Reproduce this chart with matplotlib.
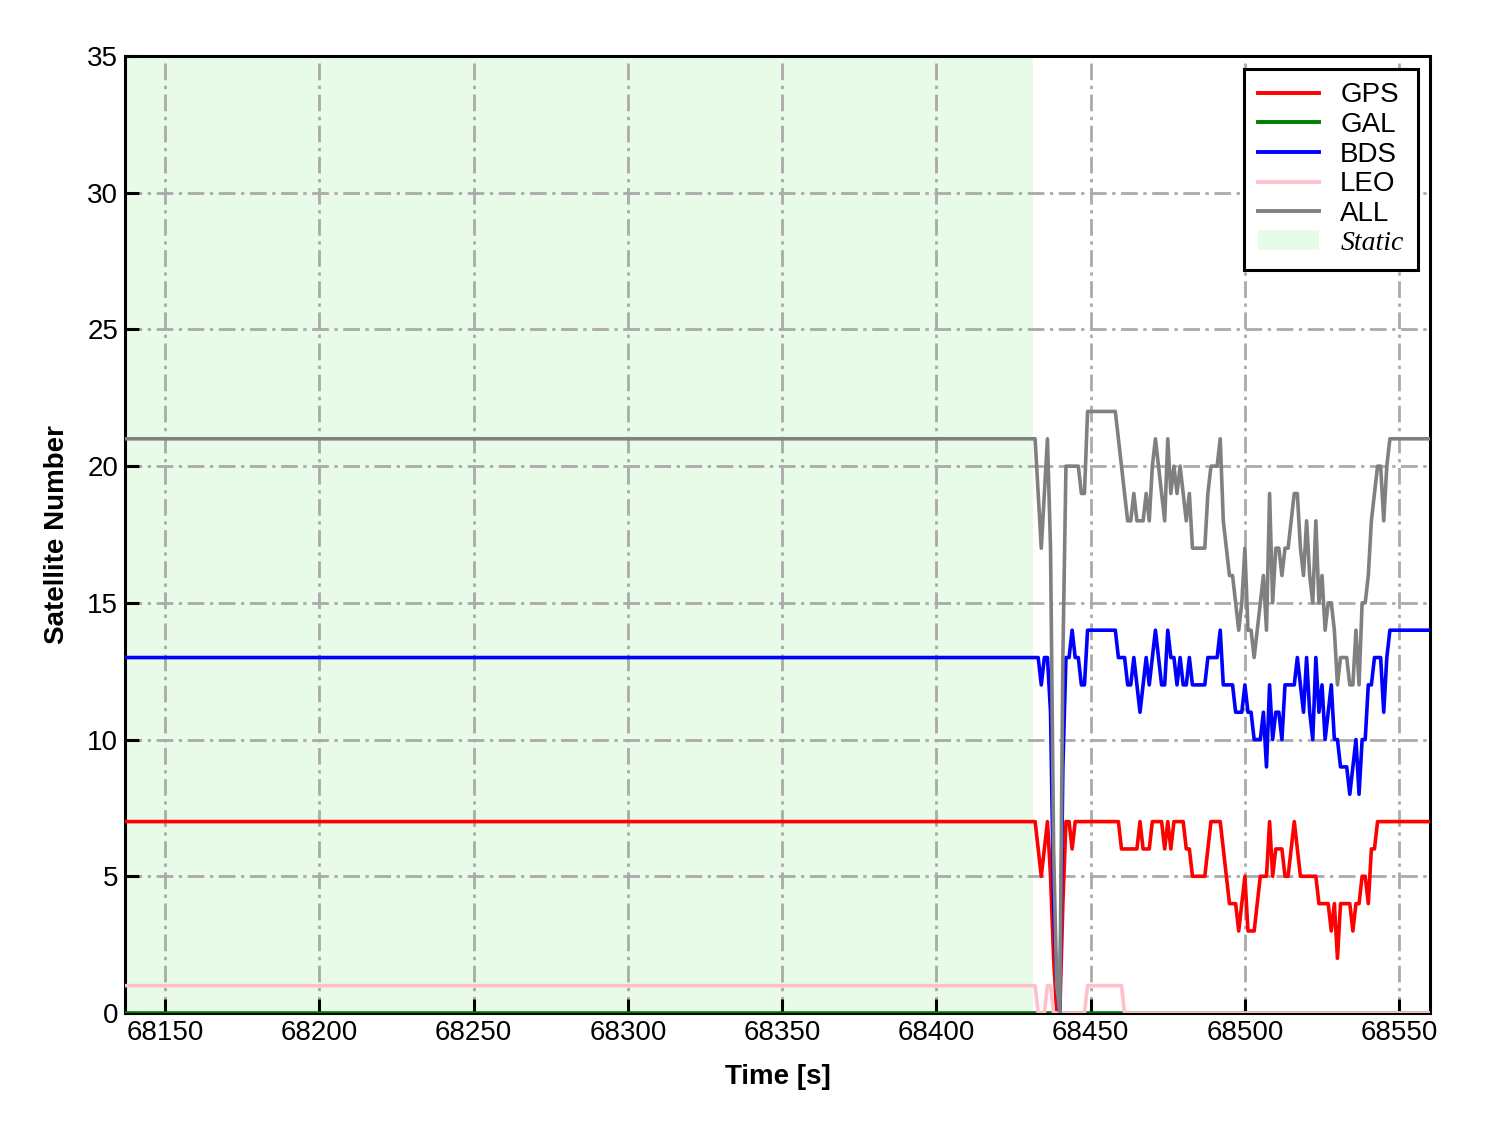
import numpy as np
import matplotlib
matplotlib.use('Agg')
import matplotlib.pyplot as plt
from matplotlib.patches import Patch
from matplotlib.lines import Line2D

plt.rcParams['font.family'] = ['Liberation Sans', 'DejaVu Sans']

# static period: constant satellite counts
t_start = 68137
t_dyn_start = 68432
t_end = 68560
static_end = 68431.4
static_gps, static_gal, static_bds, static_leo, static_all = 7, 0, 13, 1, 21

# dynamic period, one value per second from 68432 to 68560
gps_dyn = [7, 6, 5, 6, 7, 5, 2, 0, 0, 4,
           7, 7, 6, 7, 7, 7, 7, 7, 7, 7,
           7, 7, 7, 7, 7, 7, 7, 7, 6, 6,
           6, 6, 6, 6, 7, 6, 6, 6, 7, 7,
           7, 7, 6, 7, 6, 7, 7, 7, 7, 6,
           6, 5, 5, 5, 5, 5, 6, 7, 7, 7,
           7, 6, 5, 4, 4, 4, 3, 4, 5, 3,
           3, 3, 4, 5, 5, 5, 7, 5, 6, 6,
           6, 5, 5, 6, 7, 6, 5, 5, 5, 5,
           5, 5, 4, 4, 4, 4, 3, 4, 2, 4,
           4, 4, 4, 3, 4, 4, 5, 5, 4, 6,
           6, 7, 7, 7, 7, 7, 7, 7, 7, 7,
           7, 7, 7, 7, 7, 7, 7, 7, 7]
bds_dyn = [13, 13, 12, 13, 13, 11, 4, 1, 0, 9,
           13, 13, 14, 13, 13, 12, 12, 14, 14, 14,
           14, 14, 14, 14, 14, 14, 14, 13, 13, 13,
           12, 12, 13, 12, 11, 12, 13, 12, 13, 14,
           13, 12, 12, 14, 13, 13, 12, 13, 12, 12,
           13, 12, 12, 12, 12, 12, 13, 13, 13, 13,
           14, 12, 12, 12, 12, 11, 11, 11, 12, 11,
           11, 10, 10, 10, 11, 9, 12, 10, 11, 11,
           10, 12, 12, 12, 12, 13, 12, 11, 13, 11,
           10, 13, 11, 12, 10, 11, 12, 10, 10, 9,
           9, 9, 8, 9, 10, 8, 10, 10, 12, 12,
           13, 13, 13, 11, 13, 14, 14, 14, 14, 14,
           14, 14, 14, 14, 14, 14, 14, 14, 14]
leo_dyn = [1, 0, 0, 0, 1, 1, 0, 0, 0, 0,
           0, 0, 0, 0, 0, 0, 0, 1, 1, 1,
           1, 1, 1, 1, 1, 1, 1, 1, 1] + [0] * 100
all_dyn = [21, 19, 17, 19, 21, 17, 6, 1, 0, 13,
           20, 20, 20, 20, 20, 19, 19, 22, 22, 22,
           22, 22, 22, 22, 22, 22, 22, 21, 20, 19,
           18, 18, 19, 18, 18, 18, 19, 18, 20, 21,
           20, 19, 18, 21, 19, 20, 19, 20, 19, 18,
           19, 17, 17, 17, 17, 17, 19, 20, 20, 20,
           21, 18, 17, 16, 16, 15, 14, 15, 17, 14,
           14, 13, 14, 15, 16, 14, 19, 15, 17, 17,
           16, 17, 17, 18, 19, 19, 17, 16, 18, 16,
           15, 18, 15, 16, 14, 15, 15, 14, 12, 13,
           13, 13, 12, 12, 14, 12, 15, 15, 16, 18,
           19, 20, 20, 18, 20, 21, 21, 21, 21, 21,
           21, 21, 21, 21, 21, 21, 21, 21, 21]

t_static = np.arange(t_start, t_dyn_start)
t_dyn = np.arange(t_dyn_start, t_end + 1)
time = np.concatenate([t_static, t_dyn])
n_s = len(t_static)
gps = [static_gps] * n_s + gps_dyn
gal = [static_gal] * len(time)
bds = [static_bds] * n_s + bds_dyn
leo = [static_leo] * n_s + leo_dyn
alls = [static_all] * n_s + all_dyn

fig = plt.figure(figsize=(14.88, 11.33), dpi=100)
ax = fig.add_axes([125 / 1488, 1 - 1013 / 1133, (1430 - 125) / 1488, (1013 - 56) / 1133])

ax.axvspan(t_start, static_end, color='#90ee90', alpha=0.2, lw=0, zorder=0)
lw = 2.6
ax.plot(time, gps, color='red', lw=lw, zorder=3)
ax.plot(time, gal, color='green', lw=lw, zorder=3)
ax.plot(time, bds, color='blue', lw=lw, zorder=3)
ax.plot(time, leo, color='pink', lw=lw, zorder=3)
ax.plot(time, alls, color='gray', lw=lw, zorder=4)

ax.set_xlim(t_start, t_end)
ax.set_ylim(0, 35)
ax.set_xticks([68150, 68200, 68250, 68300, 68350, 68400, 68450, 68500, 68550])
ax.set_yticks(range(0, 36, 5))
ax.grid(True, color='#aaaaaa', linestyle=(0, (6, 2, 1.2, 2)), linewidth=2.0, zorder=1)
ax.set_axisbelow(True)
for s in ax.spines.values():
    s.set_linewidth(2.2)
ax.tick_params(direction='in', length=10, width=2.2, labelsize=20, pad=5)

ax.set_xlabel('Time [s]', fontsize=20, fontweight='bold', labelpad=13)
ax.set_ylabel('Satellite Number', fontsize=20, fontweight='bold', labelpad=12)

handles = [Line2D([], [], color='red', lw=2.8),
           Line2D([], [], color='green', lw=2.8),
           Line2D([], [], color='blue', lw=2.8),
           Line2D([], [], color='pink', lw=2.8),
           Line2D([], [], color='gray', lw=2.8),
           Patch(facecolor='#90ee90', alpha=0.2, lw=0)]
labels = ['GPS', 'GAL', 'BDS', 'LEO', 'ALL', 'Static']
leg = ax.legend(handles, labels, loc='upper right', fontsize=20, fancybox=False,
                edgecolor='black', framealpha=1, handlelength=2.2, handletextpad=0.75,
                labelspacing=0.13, borderpad=0.5, borderaxespad=0.45)
leg.get_frame().set_linewidth(2.2)
leg.get_texts()[5].set_fontfamily('Liberation Serif')
leg.get_texts()[5].set_fontstyle('italic')

plt.savefig('out.png', dpi=100)
